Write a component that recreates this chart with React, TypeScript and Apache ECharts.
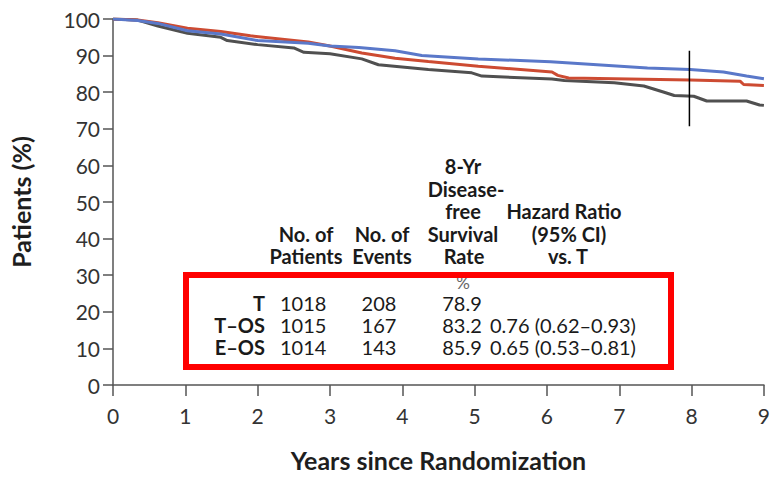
import React, { useEffect, useRef } from "react";
import * as echarts from "echarts";

// Kaplan–Meier style curves: [years, percent]
const seriesNames = ["T", "T–OS", "E–OS"];
const seriesColors = ["#505050", "#cd4b32", "#5a78c9"];

const curveT: [number, number][] = [
  [0, 100], [0.34, 99.7], [0.62, 98.1], [1.03, 96.1], [1.49, 95.0], [1.58, 94.1],
  [2.0, 93.0], [2.5, 92.1], [2.64, 90.9], [3.0, 90.5], [3.44, 89.1], [3.67, 87.5],
  [4.36, 86.2], [4.96, 85.3], [5.1, 84.4], [6.07, 83.6], [6.24, 83.2], [6.93, 82.6],
  [7.34, 81.7], [7.62, 80.0], [7.76, 79.1], [8.03, 78.9], [8.21, 77.6], [8.76, 77.6],
  [8.94, 76.5], [9.0, 76.4],
];
const curveTOS: [number, number][] = [
  [0, 100], [0.34, 99.7], [0.62, 99.0], [1.03, 97.5], [1.49, 96.6], [1.9, 95.4],
  [2.7, 93.7], [3.0, 92.6], [3.44, 90.7], [3.9, 89.3], [4.36, 88.4], [5.05, 87.1],
  [6.07, 85.5], [6.15, 84.6], [6.3, 83.9], [7.98, 83.3], [8.67, 83.0], [8.72, 82.1],
  [9.0, 81.8],
];
const curveEOS: [number, number][] = [
  [0, 100], [0.34, 99.6], [0.62, 98.8], [1.03, 96.8], [1.49, 95.9], [2.0, 94.1],
  [2.7, 93.4], [3.0, 92.6], [3.4, 92.2], [3.9, 91.3], [4.27, 90.0], [5.05, 89.1],
  [6.05, 88.3], [7.39, 86.6], [7.98, 86.2], [8.44, 85.5], [8.76, 84.4], [9.0, 83.7],
];

// 8-year marker line
const markerYear = 7.97;
const markerRange = [91.3, 70.7];

// Axis ticks
const xTicks = [0, 1, 2, 3, 4, 5, 6, 7, 8, 9];
const yMin = 0;
const yMax = 100;
const yInterval = 10;

// Table contents
const rowLabels = ["T", "T–OS", "E–OS"];
const patients = ["1018", "1015", "1014"];
const events = ["208", "167", "143"];
const rates = ["78.9", "83.2", "85.9"];
const hazards = ["", "0.76 (0.62–0.93)", "0.65 (0.53–0.81)"];

const FONT = "Lato";

export default function App() {
  const ref = useRef<HTMLDivElement>(null);

  useEffect(() => {
    if (!ref.current) return;
    const chart = echarts.init(ref.current, undefined, { renderer: "svg" });

    const txt = (
      text: string,
      x: number,
      y: number,
      align: string,
      bold: boolean,
      fill = "#1a1a1a",
      size = 20
    ) => ({
      type: "text",
      x,
      y,
      silent: true,
      style: {
        text,
        fontFamily: FONT,
        fontSize: size,
        fontWeight: bold ? "bold" : "normal",
        fill,
        align,
        verticalAlign: "middle",
      },
    });

    const rowY = [303, 325, 347];
    const graphics: any[] = [
      // headers
      txt("8-Yr", 463, 166, "center", true),
      txt("Disease-", 466, 188.5, "center", true),
      txt("free", 463, 211, "center", true),
      txt("Survival", 463, 233.5, "center", true),
      txt("Rate", 464, 256, "center", true),
      txt("%", 463, 282, "center", false, "#666", 17),
      txt("No. of", 306, 233.5, "center", true),
      txt("Patients", 306, 256, "center", true),
      txt("No. of", 382, 233.5, "center", true),
      txt("Events", 382, 256, "center", true),
      txt("Hazard Ratio", 564, 211, "center", true),
      txt("(95% CI)", 569, 233.5, "center", true),
      txt("vs. T", 568, 256, "center", true),
    ];
    rowLabels.forEach((lab, i) => {
      graphics.push(txt(lab, 265, rowY[i], "right", true));
      graphics.push(txt(patients[i], 280, rowY[i], "left", false));
      graphics.push(txt(events[i], 379, rowY[i], "center", false));
      graphics.push(txt(rates[i], 462, rowY[i], "center", false));
      if (hazards[i]) graphics.push(txt(hazards[i], 490, rowY[i], "left", false));
    });
    graphics.push({
      type: "rect",
      silent: true,
      shape: { x: 186, y: 275, width: 485, height: 92 },
      style: { fill: "none", stroke: "#ff0000", lineWidth: 6 },
    });

    const curves = [curveT, curveTOS, curveEOS];

    chart.setOption({
      animation: false,
      backgroundColor: "#ffffff",
      grid: { left: 113, right: 6, top: 19, bottom: 89, containLabel: false },
      xAxis: {
        type: "value",
        min: xTicks[0],
        max: xTicks[xTicks.length - 1],
        interval: 1,
        name: "Years since Randomization",
        nameLocation: "middle",
        nameGap: 62,
        nameTextStyle: { fontFamily: FONT, fontSize: 25, fontWeight: "bold", color: "#1e1e1e" },
        axisLine: { show: true, onZero: false, lineStyle: { color: "#555", width: 1.5 } },
        axisTick: { show: true, inside: false, length: 11, lineStyle: { color: "#555", width: 1.5 } },
        axisLabel: { fontFamily: FONT, fontSize: 21, color: "#333", margin: 20 },
        splitLine: { show: false },
      },
      yAxis: {
        type: "value",
        min: yMin,
        max: yMax,
        interval: yInterval,
        name: "Patients (%)",
        nameLocation: "middle",
        nameGap: 80,
        nameTextStyle: { fontFamily: FONT, fontSize: 25, fontWeight: "bold", color: "#1e1e1e" },
        axisLine: { show: true, lineStyle: { color: "#555", width: 1.5 } },
        axisTick: { show: true, inside: false, length: 10, lineStyle: { color: "#555", width: 1.5 } },
        axisLabel: { fontFamily: FONT, fontSize: 21, color: "#333", margin: 13 },
        splitLine: { show: false },
      },
      series: [
        ...curves.map((c, i) => ({
          type: "line",
          name: seriesNames[i],
          data: c,
          showSymbol: false,
          symbol: "none",
          lineStyle: { color: seriesColors[i], width: 3 },
          z: 2 + i,
        })),
        {
          type: "line",
          name: "marker",
          data: [[markerYear, markerRange[0]], [markerYear, markerRange[1]]],
          showSymbol: false,
          symbol: "none",
          lineStyle: { color: "#000", width: 1.5 },
          z: 10,
        },
      ],
      graphic: graphics,
    });

    return () => chart.dispose();
  }, []);

  return (
    <div
      ref={ref}
      style={{ position: "fixed", left: 0, top: 0, width: 773, height: 477, background: "#fff" }}
    />
  );
}
